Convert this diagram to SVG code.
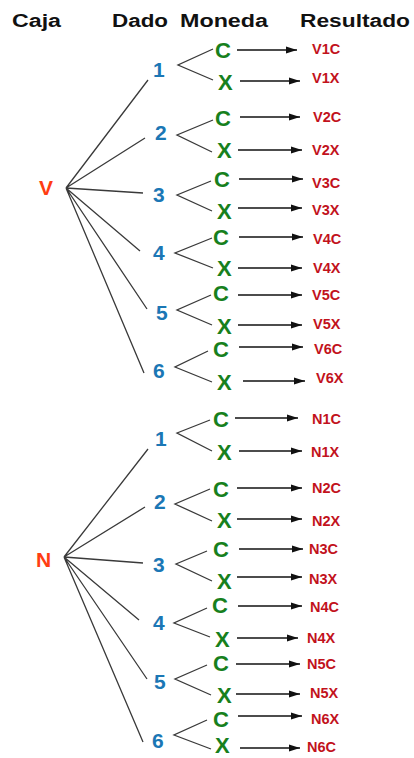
<svg xmlns="http://www.w3.org/2000/svg" width="414" height="758" viewBox="0 0 414 758">
<defs>
<marker id="ah" markerUnits="userSpaceOnUse" markerWidth="12" markerHeight="8" refX="11" refY="4" orient="auto"><path d="M0,0.5 L11,4 L0,7.5 Z" fill="#111"/></marker>
<style>
text{font-family:"Liberation Sans",Arial,sans-serif;font-weight:bold}
.h{font-size:18px;fill:#111}
.root{font-size:21px;fill:#ff3d12}
.d{font-size:21px;fill:#1b77b5}
.m{font-size:22px;fill:#17801d}
.r{font-size:14.5px;fill:#c2121c}
.t{stroke:#3a3a3a;stroke-width:1.3;fill:none}
.a{stroke:#111;stroke-width:1.3;fill:none;marker-end:url(#ah)}
</style>
</defs>
<rect width="414" height="758" fill="#fff"/>
<g id="headers">
<text class="h" x="12" y="27" textLength="49" lengthAdjust="spacingAndGlyphs">Caja</text>
<text class="h" x="112" y="27" textLength="56" lengthAdjust="spacingAndGlyphs">Dado</text>
<text class="h" x="180" y="27" textLength="88" lengthAdjust="spacingAndGlyphs">Moneda</text>
<text class="h" x="300" y="27" textLength="110" lengthAdjust="spacingAndGlyphs">Resultado</text>
</g>
<g id="connectors">
<path class="t" d="M66,188 L148,80 M66,188 L145,138 M66,188 L143,193 M66,188 L140,251 M66,188 L147,309 M66,188 L144,373"/>
<path class="t" d="M213,49 L178,65 L213,80 M213,120 L177,135 L212,152 M211,181 L177,195 L212,211 M212,238 L175,253 L213,268 M211,295 L177,310 L212,325 M208,351 L175,367 L212,382"/>
<path class="t" d="M64,557 L148,449 M64,557 L145,507 M64,557 L143,563 M64,557 L139,620 M64,557 L147,679 M64,557 L143,742"/>
<path class="t" d="M210,420 L177,433 L212,451 M210,489 L175,504 L212,521 M207,551 L176,564 L212,581 M207,608 L174,623 L210,637 M207,665 L175,679 L211,695 M207,720 L174,735 L211,749"/>
<line class="a" x1="237" y1="50" x2="297" y2="50"/>
<line class="a" x1="240" y1="81" x2="300" y2="81"/>
<line class="a" x1="240" y1="117" x2="300" y2="117"/>
<line class="a" x1="238" y1="150" x2="302" y2="150"/>
<line class="a" x1="239" y1="179" x2="303" y2="179"/>
<line class="a" x1="238" y1="208" x2="302" y2="208"/>
<line class="a" x1="239" y1="237" x2="303" y2="237"/>
<line class="a" x1="238" y1="268" x2="302" y2="268"/>
<line class="a" x1="238" y1="295" x2="302" y2="295"/>
<line class="a" x1="238" y1="325" x2="302" y2="325"/>
<line class="a" x1="239" y1="347" x2="303" y2="347"/>
<line class="a" x1="243" y1="381" x2="305" y2="381"/>
<line class="a" x1="235" y1="418" x2="298" y2="418"/>
<line class="a" x1="239" y1="451" x2="302" y2="451"/>
<line class="a" x1="237" y1="488" x2="302" y2="488"/>
<line class="a" x1="237" y1="519" x2="302" y2="519"/>
<line class="a" x1="239" y1="549" x2="303" y2="549"/>
<line class="a" x1="237" y1="577" x2="302" y2="577"/>
<line class="a" x1="238" y1="606" x2="302" y2="606"/>
<line class="a" x1="237" y1="638" x2="298" y2="638"/>
<line class="a" x1="236" y1="664" x2="300" y2="664"/>
<line class="a" x1="236" y1="694" x2="300" y2="694"/>
<line class="a" x1="238" y1="716" x2="302" y2="716"/>
<line class="a" x1="240" y1="748" x2="300" y2="748"/>
</g>
<g id="box-V"><text class="root" x="39" y="195">V</text></g>
<g id="box-N"><text class="root" x="36" y="567">N</text></g>
<g id="dice-V">
<text class="d" x="153" y="77">1</text>
<text class="d" x="155" y="140">2</text>
<text class="d" x="153" y="202">3</text>
<text class="d" x="153" y="260">4</text>
<text class="d" x="156" y="320">5</text>
<text class="d" x="153" y="378">6</text>
</g>
<g id="dice-N">
<text class="d" x="155" y="446">1</text>
<text class="d" x="154" y="509">2</text>
<text class="d" x="153" y="572">3</text>
<text class="d" x="153" y="630">4</text>
<text class="d" x="154" y="689">5</text>
<text class="d" x="152" y="748">6</text>
</g>
<g id="coins-V">
<text class="m" x="215" y="58">C</text><text class="m" x="218" y="90">X</text>
<text class="m" x="215" y="126">C</text><text class="m" x="217" y="158">X</text>
<text class="m" x="214" y="187">C</text><text class="m" x="217" y="219">X</text>
<text class="m" x="213" y="245">C</text><text class="m" x="217" y="276">X</text>
<text class="m" x="213" y="301">C</text><text class="m" x="217" y="334">X</text>
<text class="m" x="213" y="357">C</text><text class="m" x="217" y="390">X</text>
</g>
<g id="coins-N">
<text class="m" x="213" y="427">C</text><text class="m" x="217" y="460">X</text>
<text class="m" x="213" y="497">C</text><text class="m" x="217" y="528">X</text>
<text class="m" x="213" y="557">C</text><text class="m" x="217" y="589">X</text>
<text class="m" x="212" y="613">C</text><text class="m" x="215" y="647">X</text>
<text class="m" x="213" y="671">C</text><text class="m" x="217" y="703">X</text>
<text class="m" x="213" y="727">C</text><text class="m" x="215" y="753">X</text>
</g>
<g id="results-V">
<text class="r" x="312" y="54">V1C</text><text class="r" x="312" y="83">V1X</text>
<text class="r" x="313" y="122">V2C</text><text class="r" x="312" y="155">V2X</text>
<text class="r" x="312" y="188">V3C</text><text class="r" x="312" y="215">V3X</text>
<text class="r" x="313" y="244">V4C</text><text class="r" x="313" y="273">V4X</text>
<text class="r" x="312" y="300">V5C</text><text class="r" x="313" y="329">V5X</text>
<text class="r" x="314" y="354">V6C</text><text class="r" x="316" y="383">V6X</text>
</g>
<g id="results-N">
<text class="r" x="312" y="424">N1C</text><text class="r" x="311" y="457">N1X</text>
<text class="r" x="312" y="493">N2C</text><text class="r" x="312" y="526">N2X</text>
<text class="r" x="309" y="554">N3C</text><text class="r" x="309" y="584">N3X</text>
<text class="r" x="310" y="612">N4C</text><text class="r" x="307" y="643">N4X</text>
<text class="r" x="307" y="669">N5C</text><text class="r" x="310" y="698">N5X</text>
<text class="r" x="311" y="724">N6X</text><text class="r" x="307" y="752">N6C</text>
</g>
</svg>
